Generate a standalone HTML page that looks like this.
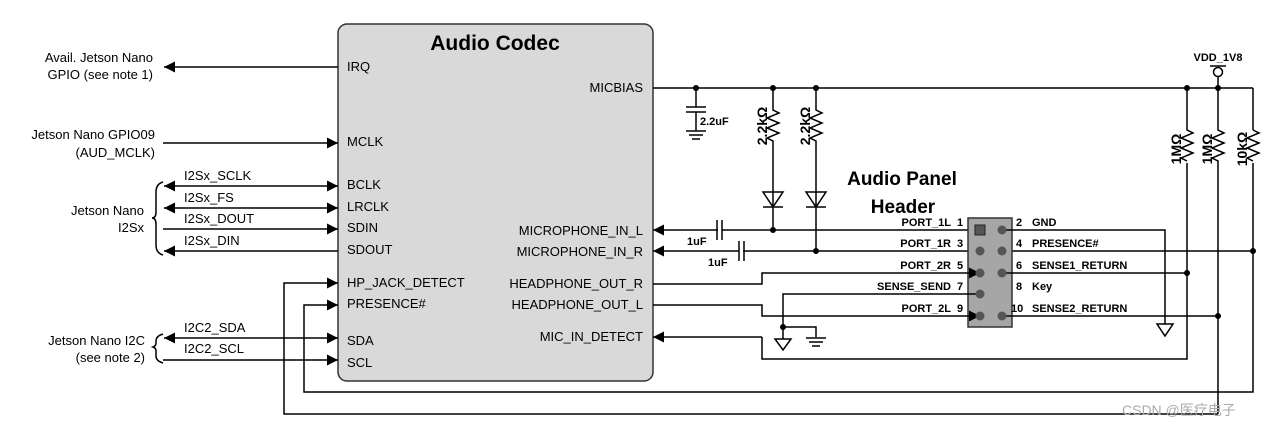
<!DOCTYPE html>
<html><head><meta charset="utf-8"><style>
html,body{margin:0;padding:0;background:#fff}
svg{display:block}
text{font-family:"Liberation Sans",Arial,sans-serif;fill:#000}
.t{font-size:13px}
.b{font-size:11px;font-weight:bold}
</style></head><body>
<svg width="1273" height="428" viewBox="0 0 1273 428" xmlns="http://www.w3.org/2000/svg">
<defs>
<marker id="a" viewBox="0 0 10 10" refX="10" refY="5" markerWidth="11" markerHeight="11" markerUnits="userSpaceOnUse" orient="auto-start-reverse"><path d="M0,0L10,5L0,10Z" fill="#000"/></marker>
</defs>
<g stroke="#000" stroke-width="1.5" fill="none">
<rect x="338" y="24" width="315" height="357" rx="9" fill="#d9d9d9" stroke="#333"/>
<line x1="338" y1="67" x2="164" y2="67" marker-end="url(#a)"/>
<line x1="163" y1="143" x2="338" y2="143" marker-end="url(#a)"/>
<line x1="164" y1="186" x2="338" y2="186" marker-start="url(#a)" marker-end="url(#a)"/>
<line x1="164" y1="208" x2="338" y2="208" marker-start="url(#a)" marker-end="url(#a)"/>
<line x1="163" y1="229" x2="338" y2="229" marker-end="url(#a)"/>
<line x1="338" y1="251" x2="164" y2="251" marker-end="url(#a)"/>
<line x1="164" y1="338" x2="338" y2="338" marker-start="url(#a)" marker-end="url(#a)"/>
<line x1="163" y1="360" x2="338" y2="360" marker-end="url(#a)"/>
<path d="M163,182 Q156,184 156,192 L156,212 Q156,218 152,218 Q156,218 156,224 L156,245 Q156,253 163,255"/>
<path d="M163,334 Q156,336 156,341 L156,343 Q156,346 153,347 Q156,348 156,351 L156,356 Q156,361 163,363"/>
<path d="M1218,414 L284,414 L284,283 L338,283" marker-end="url(#a)"/>
<path d="M1253,163 L1253,392 L304,392 L304,305 L338,305" marker-end="url(#a)"/>
<line x1="653" y1="88" x2="1253" y2="88"/>
<path d="M1253,88 V130"/>
<path d="M696,88 V107 M686,107 H706 M686,112 H706 M696,112 V131 M686,131 H706 M689,135 H703 M692,139 H700"/>
<path d="M773,88 V110 l6,3 -12,5 12,5 -12,5 12,5 -12,5 6,3 V230"/>
<path d="M816,88 V110 l6,3 -12,5 12,5 -12,5 12,5 -12,5 6,3 V251"/>
<path d="M763,192 H783 L773,207 Z M763,207 H783"/>
<path d="M806,192 H826 L816,207 Z M806,207 H826"/>
<path d="M980,230 H653" marker-end="url(#a)"/>
<path d="M1253,251 H653" marker-end="url(#a)"/>
</g>
<rect x="718" y="222" width="4" height="16" fill="#fff"/>
<rect x="739" y="243" width="4" height="16" fill="#fff"/>
<g stroke="#000" stroke-width="1.5" fill="none">
<path d="M717,220 V240 M722,220 V240"/>
<path d="M739,241 V261 M744,241 V261"/>
<rect x="968" y="218" width="44" height="109" fill="#a6a6a6" stroke="#333"/>
<path d="M1002,230 H1165 V324"/>
<path d="M1157,324 H1173 L1165,336 Z"/>
<path d="M1002,273 H1187"/>
<path d="M1002,316 H1218"/>
<path d="M653,284 H762 V273 H980" marker-end="url(#a)"/>
<path d="M653,305 H762 V316 H980" marker-end="url(#a)"/>
<path d="M980,294 H783 V339"/>
<path d="M783,327 H816 V337"/>
<path d="M775,339 H791 L783,350 Z"/>
<path d="M806,338 H826 M809,342 H823 M812,346 H820"/>
<path d="M653,337 H762" marker-start="url(#a)"/>
<path d="M762,337 V359 H1187 V163"/>
<path d="M1187,88 V130 l6,3 -12,5 12,5 -12,5 12,5 -12,5 6,3"/>
<path d="M1218,76 V130 l6,3 -12,5 12,5 -12,5 12,5 -12,5 6,3 V414"/>
<path d="M1253,130 l6,3 -12,5 12,5 -12,5 12,5 -12,5 6,3"/>
<circle cx="1218" cy="72" r="4.5" fill="#fff"/>
<path d="M1210,66 H1226"/>
</g>
<g fill="#000">
<circle cx="696" cy="88" r="3"/><circle cx="773" cy="88" r="3"/><circle cx="816" cy="88" r="3"/>
<circle cx="1187" cy="88" r="3"/><circle cx="1218" cy="88" r="3"/>
<circle cx="773" cy="230" r="3"/><circle cx="816" cy="251" r="3"/>
<circle cx="1253" cy="251" r="3"/><circle cx="1187" cy="273" r="3"/><circle cx="1218" cy="316" r="3"/>
<circle cx="783" cy="327" r="3"/>
</g>
<g fill="#555" stroke="none">
<rect x="975" y="225" width="10" height="10" stroke="#222" stroke-width="1"/>
<circle cx="1002" cy="230" r="4.5"/>
<circle cx="980" cy="251" r="4.5"/><circle cx="1002" cy="251" r="4.5"/>
<circle cx="980" cy="273" r="4.5"/><circle cx="1002" cy="273" r="4.5"/>
<circle cx="980" cy="294" r="4.5"/>
<circle cx="980" cy="316" r="4.5"/><circle cx="1002" cy="316" r="4.5"/>
</g>
<text x="495" y="50" text-anchor="middle" style="font-size:21px;font-weight:bold">Audio Codec</text>
<g class="t">
<text x="153" y="62" text-anchor="end">Avail. Jetson Nano</text>
<text x="153" y="79" text-anchor="end">GPIO (see note 1)</text>
<text x="155" y="139" text-anchor="end">Jetson Nano GPIO09</text>
<text x="155" y="157" text-anchor="end">(AUD_MCLK)</text>
<text x="144" y="215" text-anchor="end">Jetson Nano</text>
<text x="144" y="232" text-anchor="end">I2Sx</text>
<text x="145" y="345" text-anchor="end">Jetson Nano I2C</text>
<text x="145" y="362" text-anchor="end">(see note 2)</text>
<text x="184" y="180">I2Sx_SCLK</text>
<text x="184" y="202">I2Sx_FS</text>
<text x="184" y="223">I2Sx_DOUT</text>
<text x="184" y="245">I2Sx_DIN</text>
<text x="184" y="332">I2C2_SDA</text>
<text x="184" y="353">I2C2_SCL</text>
<text x="347" y="71">IRQ</text>
<text x="347" y="146">MCLK</text>
<text x="347" y="189">BCLK</text>
<text x="347" y="211">LRCLK</text>
<text x="347" y="232">SDIN</text>
<text x="347" y="254">SDOUT</text>
<text x="347" y="287">HP_JACK_DETECT</text>
<text x="347" y="308">PRESENCE#</text>
<text x="347" y="345">SDA</text>
<text x="347" y="367">SCL</text>
<text x="643" y="92" text-anchor="end">MICBIAS</text>
<text x="643" y="235" text-anchor="end">MICROPHONE_IN_L</text>
<text x="643" y="256" text-anchor="end">MICROPHONE_IN_R</text>
<text x="643" y="288" text-anchor="end">HEADPHONE_OUT_R</text>
<text x="643" y="309" text-anchor="end">HEADPHONE_OUT_L</text>
<text x="643" y="341" text-anchor="end">MIC_IN_DETECT</text>
</g>
<g class="b">
<text x="700" y="125">2.2uF</text>
<text x="687" y="245">1uF</text>
<text x="708" y="266">1uF</text>
<text x="951" y="226" text-anchor="end">PORT_1L</text><text x="957" y="226">1</text>
<text x="951" y="247" text-anchor="end">PORT_1R</text><text x="957" y="247">3</text>
<text x="951" y="269" text-anchor="end">PORT_2R</text><text x="957" y="269">5</text>
<text x="951" y="290" text-anchor="end">SENSE_SEND</text><text x="957" y="290">7</text>
<text x="951" y="312" text-anchor="end">PORT_2L</text><text x="957" y="312">9</text>
<text x="1016" y="226">2</text><text x="1032" y="226">GND</text>
<text x="1016" y="247">4</text><text x="1032" y="247">PRESENCE#</text>
<text x="1016" y="269">6</text><text x="1032" y="269">SENSE1_RETURN</text>
<text x="1016" y="290">8</text><text x="1032" y="290">Key</text>
<text x="1011" y="312">10</text><text x="1032" y="312">SENSE2_RETURN</text>
<text x="1218" y="61" text-anchor="middle">VDD_1V8</text>
</g>
<g style="font-size:14px;font-weight:bold;font-family:'Liberation Sans',sans-serif">
<text transform="translate(767,126) rotate(-90)" text-anchor="middle">2.2kΩ</text>
<text transform="translate(810,126) rotate(-90)" text-anchor="middle">2.2kΩ</text>
<text transform="translate(1181,149) rotate(-90)" text-anchor="middle">1MΩ</text>
<text transform="translate(1212,149) rotate(-90)" text-anchor="middle">1MΩ</text>
<text transform="translate(1247,149) rotate(-90)" text-anchor="middle">10kΩ</text>
</g>
<text x="902" y="185" text-anchor="middle" style="font-size:19px;font-weight:bold">Audio Panel</text>
<text x="903" y="213" text-anchor="middle" style="font-size:19px;font-weight:bold">Header</text>
<text x="1122" y="415" style="font-size:14px;fill:#aaa;font-family:'Liberation Sans','Noto Sans CJK SC',sans-serif">CSDN @医疗电子</text>
</svg>
</body></html>
